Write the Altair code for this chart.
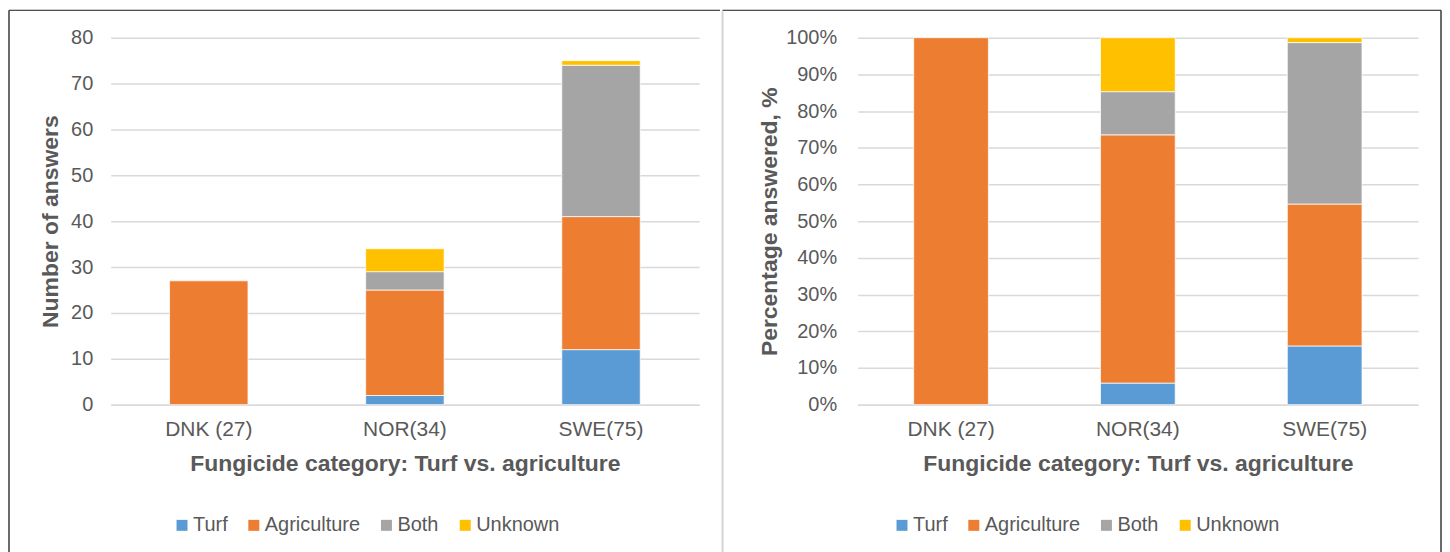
import altair as alt
import pandas as pd

countries = ["DNK (27)", "NOR(34)", "SWE(75)"]
series = ["Turf", "Agriculture", "Both", "Unknown"]
turf = [0, 2, 12]
agriculture = [27, 23, 29]
both = [0, 4, 33]
unknown = [0, 5, 1]
colors = ["#5B9BD5", "#ED7D31", "#A5A5A5", "#FFC000"]

left_ticks = [0, 10, 20, 30, 40, 50, 60, 70, 80]
right_ticks = [0, 0.1, 0.2, 0.3, 0.4, 0.5, 0.6, 0.7, 0.8, 0.9, 1.0]

x_title = "Fungicide category: Turf vs. agriculture"
left_y_title = "Number of answers"
right_y_title = "Percentage answered, %"

rows = []
for i, (name, vals) in enumerate(zip(series, [turf, agriculture, both, unknown])):
    for c, v in zip(countries, vals):
        rows.append({"country": c, "series": name, "value": v, "order": i})
df = pd.DataFrame(rows)

FONT = "Liberation Sans"
GREY = "#595959"
GRID = "#D9D9D9"

W_L, W_R, H = 590, 562, 368


def x_enc():
    return alt.X(
        "country:N", sort=countries,
        scale=alt.Scale(paddingInner=0.6, paddingOuter=0.3),
        axis=alt.Axis(
            title=x_title, labelAngle=0, ticks=False, tickSize=0,
            labelPadding=31, labelBaseline="alphabetic", labelFontSize=21,
            labelFont=FONT, labelColor=GREY, domainColor=GRID, domainWidth=1.5,
            titleFont=FONT, titleFontSize=23, titleFontWeight="bold",
            titleColor=GREY, titleBaseline="alphabetic", titleY=66, grid=False,
        ),
    )


def color_enc(legend_x):
    return alt.Color(
        "series:N",
        scale=alt.Scale(domain=series, range=colors),
        legend=alt.Legend(
            orient="none", legendX=legend_x, legendY=479, direction="horizontal",
            title=None, symbolType="square", symbolSize=121, symbolStrokeWidth=0,
            symbolOpacity=1, labelFontSize=20, labelFont=FONT, labelColor=GREY,
            columnPadding=16, labelOffset=1, padding=0,
        ),
    )


def y_axis(title, values, title_x, label_pad, fmt=None):
    kw = dict(
        values=values, grid=True, gridColor=GRID, gridWidth=1.5, domain=False,
        ticks=False, tickSize=0, labelPadding=label_pad, labelFontSize=20,
        labelFont=FONT, labelColor=GREY, title=title, titleX=title_x,
        titleBaseline="alphabetic", titleFont=FONT, titleFontSize=23,
        titleFontWeight="bold", titleColor=GREY,
    )
    if fmt:
        kw["format"] = fmt
    return alt.Axis(**kw)


base = alt.Chart(df).transform_filter("datum.value > 0")

left_bars = base.mark_bar(stroke="white", strokeWidth=0.75).encode(
    x=x_enc(),
    y=alt.Y("value:Q", stack="zero",
            scale=alt.Scale(domain=[0, 80], nice=False),
            axis=y_axis(left_y_title, left_ticks, -53, 18)),
    color=color_enc(61.5),
    order=alt.Order("order:Q"),
)

right_bars = base.mark_bar(stroke="white", strokeWidth=0.75).encode(
    x=x_enc(),
    y=alt.Y("value:Q", stack="normalize",
            scale=alt.Scale(domain=[0, 1], nice=False),
            axis=y_axis(right_y_title, right_ticks, -81, 21, ".0%")),
    color=color_enc(34.5),
    order=alt.Order("order:Q"),
)

frame = alt.Chart(pd.DataFrame({"a": [0]}))

left_top = frame.mark_rule(color="#1a1a1a", strokeWidth=1).encode(
    x=alt.value(-102), x2=alt.value(611), y=alt.value(-27.5))
left_side = frame.mark_rule(color="#3a3a3a", strokeWidth=1.5).encode(
    x=alt.value(-102), y=alt.value(-27.5), y2=alt.value(530))

right_top = frame.mark_rule(color="#1a1a1a", strokeWidth=1).encode(
    x=alt.value(-135.5), x2=alt.value(585), y=alt.value(-27.5))
right_sep = frame.mark_rule(color="#D4D4D4", strokeWidth=2).encode(
    x=alt.value(-135.5), y=alt.value(-26.5), y2=alt.value(530))
right_side = frame.mark_rule(color="#3a3a3a", strokeWidth=1.5).encode(
    x=alt.value(585), y=alt.value(-27.5), y2=alt.value(530))

left = alt.layer(left_bars, left_top, left_side).properties(width=W_L, height=H)
right = alt.layer(right_bars, right_top, right_sep, right_side).properties(width=W_R, height=H)

chart = (
    alt.hconcat(left, right, spacing=0)
    .resolve_scale(color="independent")
    .resolve_legend(color="independent")
    .properties(padding={"left": 0, "top": 0, "right": 0, "bottom": 0}, background="white")
    .configure_view(strokeWidth=0)
)

chart.save("out.html", embed_options={"renderer": "svg", "actions": False})
